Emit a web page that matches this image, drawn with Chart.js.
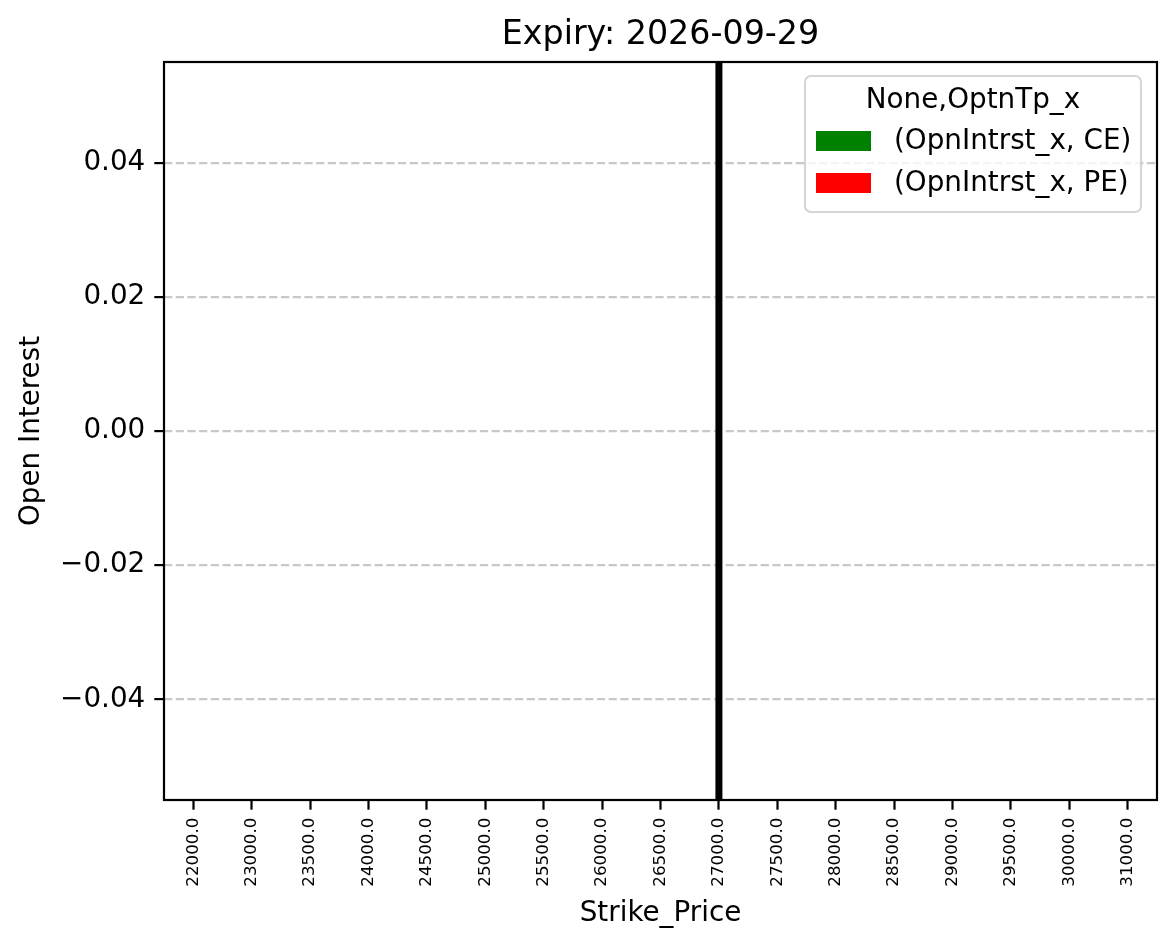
<!DOCTYPE html>
<html>
<head>
<meta charset="utf-8">
<script src="https://cdn.jsdelivr.net/npm/chart.js@4.4.1/dist/chart.umd.min.js"></script>
<style>
  html, body { margin: 0; padding: 0; background: #fff; }
  #wrap { width: 1175px; height: 949px; position: relative; }
</style>
</head>
<body>
<div id="wrap"><canvas id="chart"></canvas></div>
<script>
// chart data
const strikes = ['22000.0', '23000.0', '23500.0', '24000.0', '24500.0', '25000.0', '25500.0', '26000.0',
                 '26500.0', '27000.0', '27500.0', '28000.0', '28500.0', '29000.0', '29500.0', '30000.0', '31000.0'];
const ceOI = [0, 0, 0, 0, 0, 0, 0, 0, 0, 0, 0, 0, 0, 0, 0, 0, 0];
const peOI = [0, 0, 0, 0, 0, 0, 0, 0, 0, 0, 0, 0, 0, 0, 0, 0, 0];
const yTicks = [-0.04, -0.02, 0.00, 0.02, 0.04];
const markerStrike = '27000.0';
const legendTitle = 'None,OptnTp_x';

const FONT = 'DejaVu Sans';
const LW = 2.2; // 0.8pt at 200 dpi

// frame, marker line, title and legend drawn on top
const extras = {
    id: 'extras',
    afterDatasetsDraw(chart) {
        const ctx = chart.ctx;
        const area = chart.chartArea;
        const x = chart.scales.x;

        // vertical line at the marked strike
        const px = x.getPixelForValue(strikes.indexOf(markerStrike));
        ctx.save();
        ctx.strokeStyle = '#000';
        ctx.lineWidth = 7;
        ctx.beginPath();
        ctx.moveTo(px, area.top);
        ctx.lineTo(px, area.bottom);
        ctx.stroke();

        // axes frame
        ctx.lineWidth = LW;
        ctx.strokeRect(area.left, area.top, area.right - area.left, area.bottom - area.top);

        // title
        ctx.fillStyle = '#000';
        ctx.font = '33.3px "' + FONT + '"';
        ctx.textAlign = 'center';
        ctx.textBaseline = 'middle';
        ctx.fillText('Expiry: 2026-09-29', (area.left + area.right) / 2, 35);

        // legend
        const bx = 805, by = 76, bw = 336, bh = 136, r = 6;
        ctx.beginPath();
        ctx.moveTo(bx + r, by);
        ctx.arcTo(bx + bw, by, bx + bw, by + bh, r);
        ctx.arcTo(bx + bw, by + bh, bx, by + bh, r);
        ctx.arcTo(bx, by + bh, bx, by, r);
        ctx.arcTo(bx, by, bx + bw, by, r);
        ctx.closePath();
        ctx.fillStyle = 'rgba(255,255,255,0.8)';
        ctx.fill();
        ctx.strokeStyle = 'rgba(204,204,204,0.8)';
        ctx.lineWidth = LW;
        ctx.stroke();

        ctx.fillStyle = '#000';
        ctx.font = '27.8px "' + FONT + '"';
        ctx.textAlign = 'center';
        ctx.fillText(legendTitle, 973, 101);

        ctx.textAlign = 'left';
        chart.data.datasets.forEach((ds, i) => {
            const ry = 131 + i * 42;
            ctx.fillStyle = ds.backgroundColor;
            ctx.fillRect(816, ry, 55, 20);
            ctx.fillStyle = '#000';
            ctx.fillText(ds.label, 894, ry + 11);
        });
        ctx.restore();
    }
};

new Chart(document.getElementById('chart'), {
    type: 'bar',
    data: {
        labels: strikes,
        datasets: [
            { label: '(OpnIntrst_x, CE)', data: ceOI, backgroundColor: '#008000', borderWidth: 0 },
            { label: '(OpnIntrst_x, PE)', data: peOI, backgroundColor: '#ff0000', borderWidth: 0 }
        ]
    },
    options: {
        responsive: true,
        maintainAspectRatio: false,
        animation: false,
        layout: { padding: { top: 62, right: 18, bottom: 0, left: 0 } },
        plugins: {
            legend: { display: false },
            title: { display: false },
            tooltip: { enabled: false }
        },
        scales: {
            x: {
                offset: true,
                afterFit(scale) { scale.height = 149; },
                grid: { display: true, drawOnChartArea: false, tickLength: 9.7, tickColor: '#000', tickWidth: LW, offset: false },
                border: { display: false },
                ticks: {
                    color: '#000',
                    font: { family: FONT, size: 16.7 },
                    maxRotation: 90,
                    minRotation: 90,
                    autoSkip: false,
                    padding: 8
                },
                title: {
                    display: true,
                    text: 'Strike_Price',
                    color: '#000',
                    font: { family: FONT, size: 27.8 },
                    padding: { top: 0, bottom: 19 }
                }
            },
            y: {
                min: -0.055,
                max: 0.055,
                afterFit(scale) { scale.width = 164; },
                afterBuildTicks(scale) { scale.ticks = yTicks.map(v => ({ value: v })); },
                grid: {
                    color: 'rgba(176,176,176,0.7)',
                    lineWidth: LW,
                    tickColor: '#000',
                    tickWidth: LW,
                    tickLength: 9.7,
                    tickBorderDash: []
                },
                border: { display: false, dash: [8.2, 3.5] },
                ticks: {
                    color: '#000',
                    font: { family: FONT, size: 27.8 },
                    padding: 9,
                    callback: v => (v < 0 ? '\u2212' : '') + Math.abs(v).toFixed(2)
                },
                title: {
                    display: true,
                    text: 'Open Interest',
                    color: '#000',
                    font: { family: FONT, size: 27.8 },
                    padding: { top: 15, bottom: 0 }
                }
            }
        }
    },
    plugins: [extras]
});
</script>
</body>
</html>
